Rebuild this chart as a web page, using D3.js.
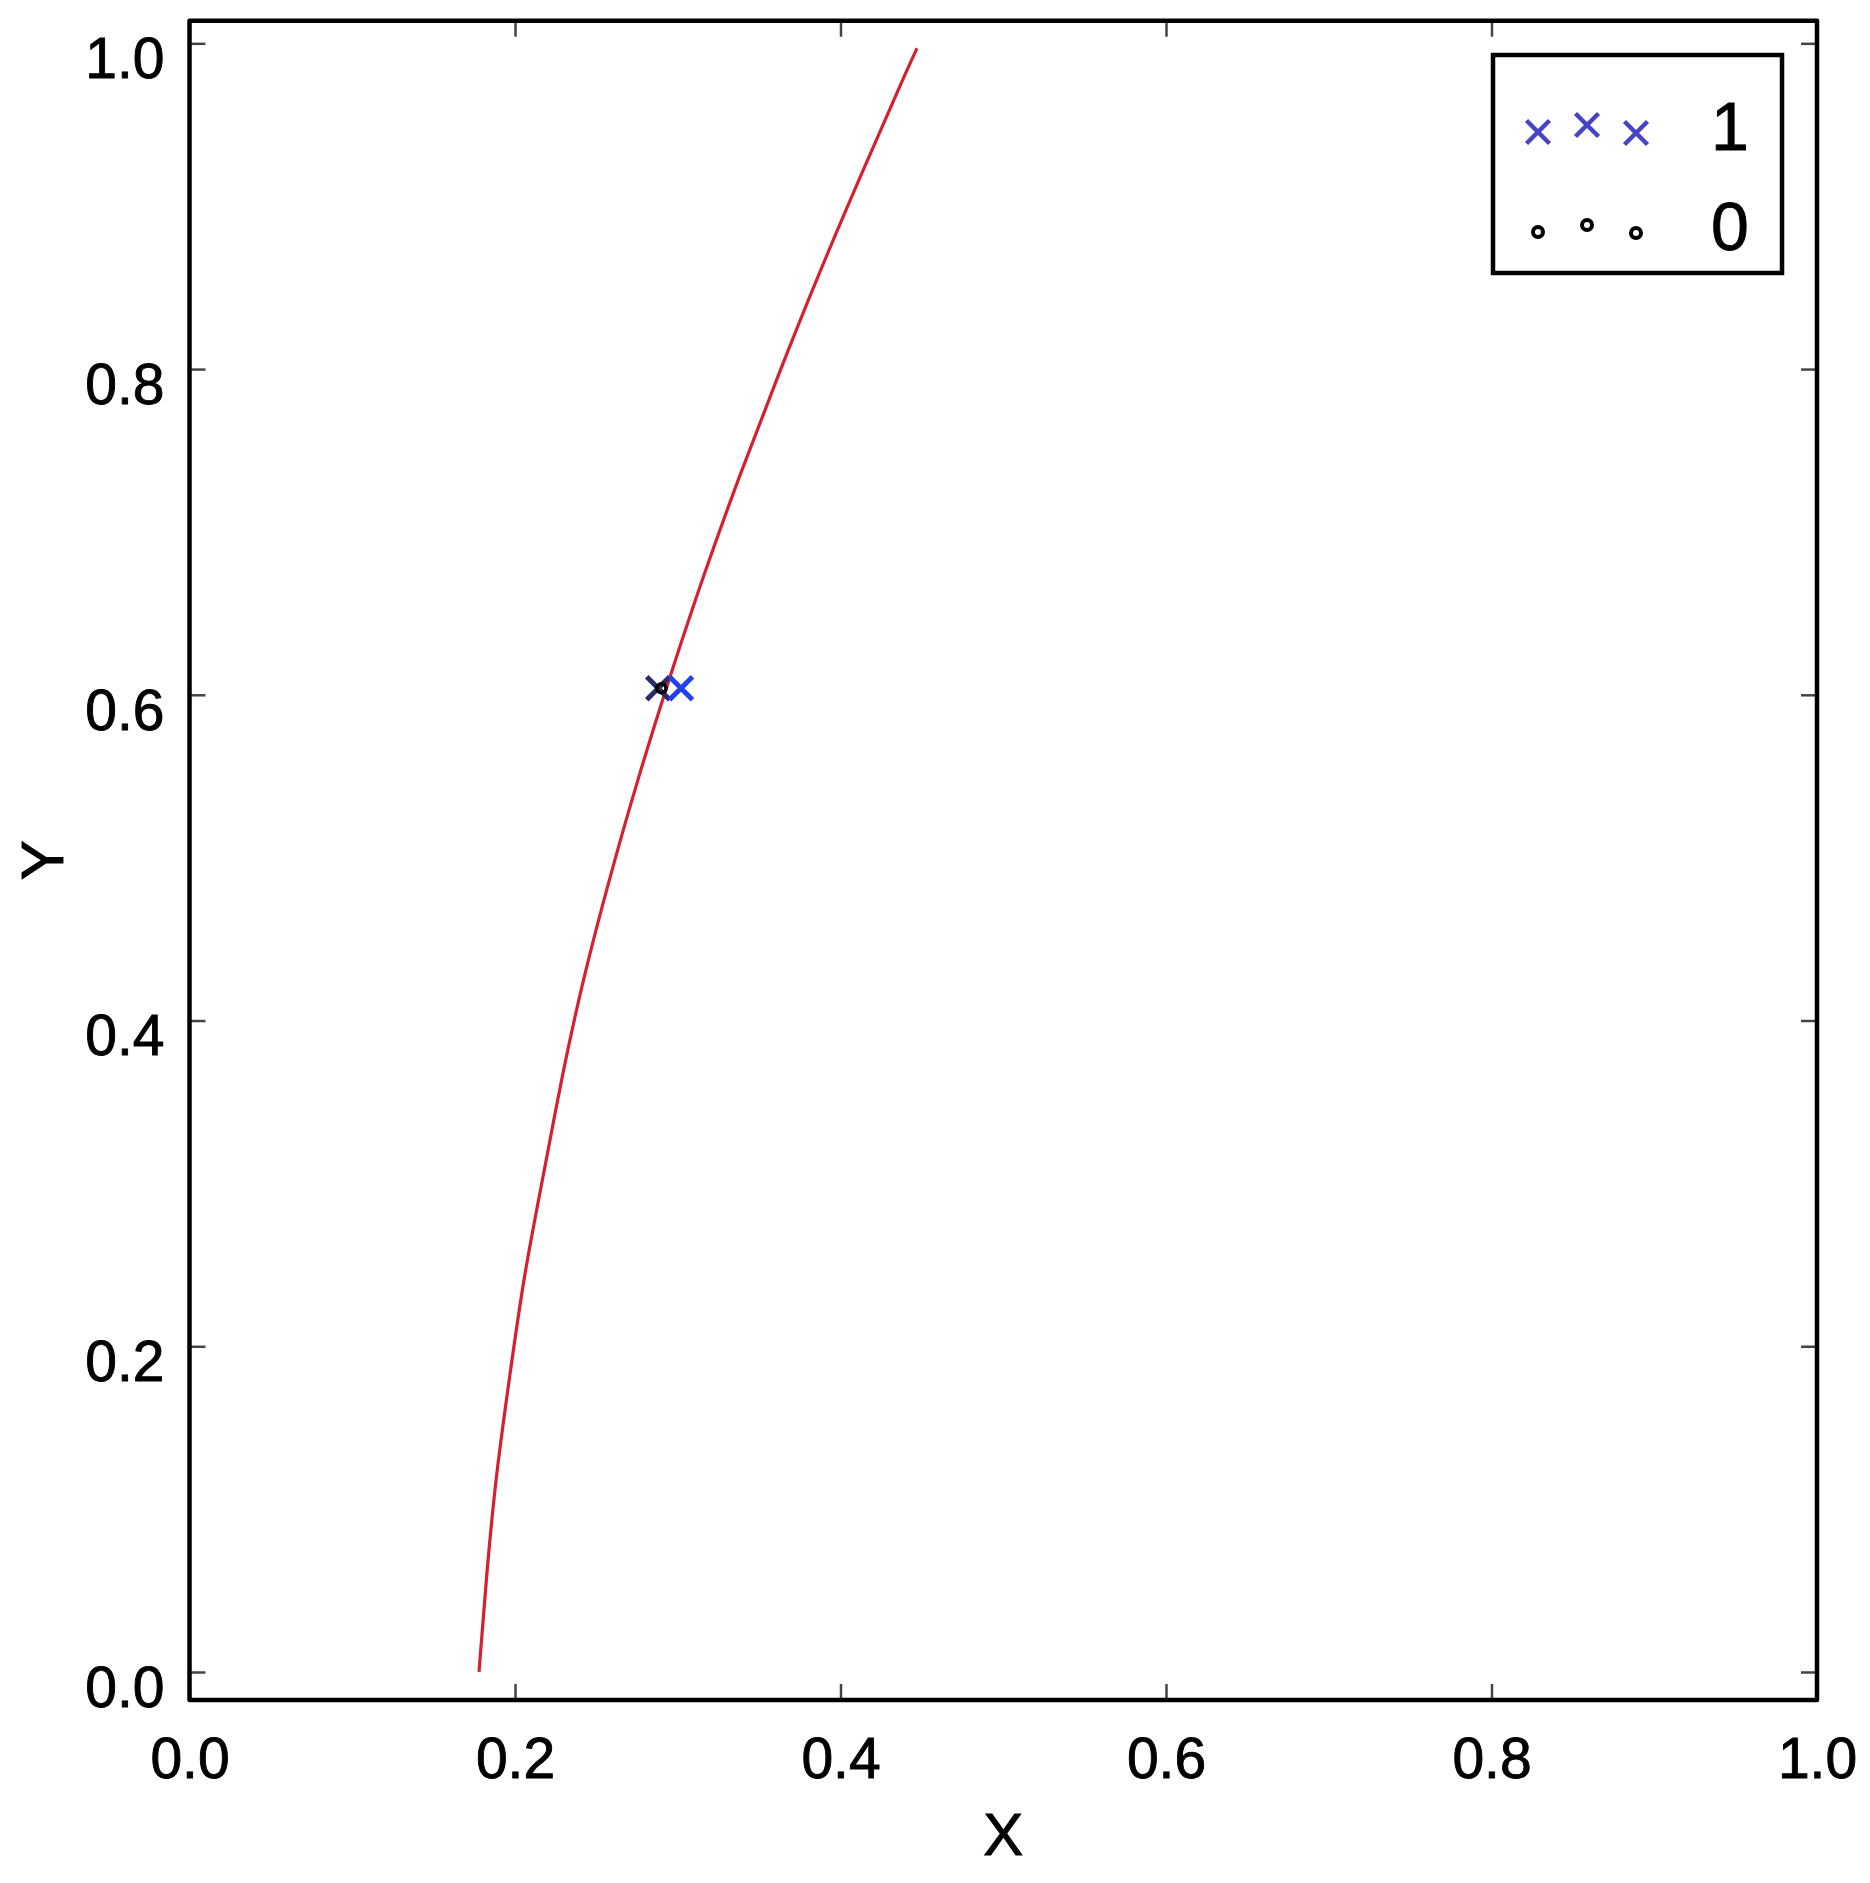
<!DOCTYPE html>
<html lang="en">
    <head>
        <meta charset="utf-8">
        <script src="https://cdn.jsdelivr.net/npm/d3@7"></script>
        <style>
            body { margin: 0; background: #fff; }
            text { font-family: "Liberation Sans", Arial, Helvetica, sans-serif; fill: #000; stroke: #000; stroke-width: 0.9px; }
        </style>
    </head>
    <body>
        <svg id="mysvg" width="1870" height="1883"></svg>

        <script>

        // tick values
        var xTicks = [0.0, 0.2, 0.4, 0.6, 0.8, 1.0]
        var yTicks = [0.0, 0.2, 0.4, 0.6, 0.8, 1.0]

        // red boundary curve
        var curveX = [0.1779, 0.1825, 0.1883, 0.1968, 0.2055, 0.2175, 0.2290, 0.2424, 0.2585,
                      0.2762, 0.2954, 0.3160, 0.3381, 0.3616, 0.3864, 0.4125, 0.4396, 0.4470]
        var curveY = [0.000, 0.060, 0.121, 0.182, 0.244, 0.305, 0.367, 0.428, 0.489,
                      0.551, 0.612, 0.674, 0.735, 0.796, 0.858, 0.919, 0.981, 0.997]

        // class "1" (crosses) and class "0" (circles)
        var class1X = [0.288, 0.302]
        var class1Y = [0.604, 0.604]
        var class0X = [0.290]
        var class0Y = [0.604]

        var legendLabels = ["1", "0"]

        var svg = d3.select("#mysvg")

        // plot box (named so they don't clash with window.top)
        var pLeft = 189.5, pRight = 1817, pTop = 20.7, pBottom = 1700

        var x = d3.scaleLinear().domain([0, 1]).range([pLeft, pRight])
        var y = d3.scaleLinear().domain([-0.0172, 1.0139]).range([pBottom, pTop])

        var fmt = d3.format(".1f")
        var tickLen = 16

        function styleTicks(g) {
            g.select(".domain").remove()
            g.selectAll(".tick line").attr("stroke", "#444").attr("stroke-width", 2.5)
        }

        // bottom axis with labels
        svg.append("g")
            .attr("transform", "translate(0," + pBottom + ")")
            .call(d3.axisBottom(x).tickValues(xTicks).tickFormat(fmt).tickSizeInner(-tickLen).tickSizeOuter(0).tickPadding(37.5))
            .call(styleTicks)
            .selectAll("text").style("font-size", "57px").attr("fill", "#000")

        // left axis with labels
        svg.append("g")
            .attr("transform", "translate(" + pLeft + ",0)")
            .call(d3.axisLeft(y).tickValues(yTicks).tickFormat(fmt).tickSizeInner(-tickLen).tickSizeOuter(0).tickPadding(25))
            .call(styleTicks)
            .selectAll("text").style("font-size", "57px").attr("fill", "#000").attr("dy", "0.6em")

        // top and right: ticks only
        svg.append("g")
            .attr("transform", "translate(0," + pTop + ")")
            .call(d3.axisTop(x).tickValues(xTicks).tickFormat("").tickSizeInner(-tickLen).tickSizeOuter(0))
            .call(styleTicks)

        svg.append("g")
            .attr("transform", "translate(" + pRight + ",0)")
            .call(d3.axisRight(y).tickValues(yTicks).tickFormat("").tickSizeInner(-tickLen).tickSizeOuter(0))
            .call(styleTicks)

        // frame
        svg.append("rect")
            .attr("x", pLeft).attr("y", pTop)
            .attr("width", pRight - pLeft).attr("height", pBottom - pTop)
            .attr("fill", "none")
            .attr("stroke", "#000")
            .attr("stroke-width", 4.5)
            .attr("stroke-linejoin", "round")

        // curve
        var curvePts = curveX.map(function(v, i) { return [v, curveY[i]] })
        var line = d3.line()
            .x(function(d) { return x(d[0]) })
            .y(function(d) { return y(d[1]) })
            .curve(d3.curveBasis)

        svg.append("path")
            .attr("d", line(curvePts))
            .attr("fill", "none")
            .attr("stroke", "#d42030")
            .attr("stroke-width", 3.2)

        var crossPath = "M-11.5,-11.5L11.5,11.5M-11.5,11.5L11.5,-11.5"

        // class 1 crosses
        svg.selectAll(".c1")
            .data(class1X.map(function(v, i) { return [v, class1Y[i]] }))
            .enter().append("path")
            .attr("class", "c1")
            .attr("d", crossPath)
            .attr("transform", function(d) { return "translate(" + x(d[0]) + "," + y(d[1]) + ")" })
            .attr("stroke", function(d, i) { return i == 0 ? "#2a2c6a" : "#2440ee" })
            .attr("stroke-width", 5)
            .attr("fill", "none")

        // class 0 circles
        svg.selectAll(".c0")
            .data(class0X.map(function(v, i) { return [v, class0Y[i]] }))
            .enter().append("circle")
            .attr("class", "c0")
            .attr("cx", function(d) { return x(d[0]) })
            .attr("cy", function(d) { return y(d[1]) })
            .attr("r", 4.5)
            .attr("fill", "none")
            .attr("stroke", "#000")
            .attr("stroke-width", 3.5)

        // legend
        var lg = svg.append("g").attr("transform", "translate(1493,55)")
        lg.append("rect")
            .attr("width", 289).attr("height", 218)
            .attr("fill", "#fff")
            .attr("stroke", "#000")
            .attr("stroke-width", 4.5)

        var symDx = [45, 94, 143]
        var symDy = [2, -5, 3]

        var rows = lg.selectAll(".lrow")
            .data(legendLabels)
            .enter().append("g")
            .attr("class", "lrow")
            .attr("transform", function(d, i) { return "translate(0," + (75 + i * 100) + ")" })

        rows.each(function(d, i) {
            var row = d3.select(this)
            symDx.forEach(function(dx, k) {
                if (i == 0) {
                    row.append("path")
                        .attr("d", crossPath)
                        .attr("transform", "translate(" + dx + "," + symDy[k] + ")")
                        .attr("stroke", "#4444c4")
                        .attr("stroke-width", 4.5)
                        .attr("fill", "none")
                } else {
                    row.append("circle")
                        .attr("cx", dx).attr("cy", symDy[k])
                        .attr("r", 5)
                        .attr("fill", "none")
                        .attr("stroke", "#000")
                        .attr("stroke-width", 4)
                }
            })
            row.append("text")
                .attr("x", 237).attr("y", 20)
                .attr("text-anchor", "middle")
                .style("font-size", "68px")
                .text(d)
        })

        // axis titles
        svg.append("text")
            .attr("x", (pLeft + pRight) / 2).attr("y", 1855)
            .attr("text-anchor", "middle")
            .style("font-size", "60px")
            .text("X")

        svg.append("text")
            .attr("transform", "translate(63," + ((pTop + pBottom) / 2) + ") rotate(-90)")
            .attr("text-anchor", "middle")
            .style("font-size", "60px")
            .text("Y")
        </script>
    </body>
</html>
